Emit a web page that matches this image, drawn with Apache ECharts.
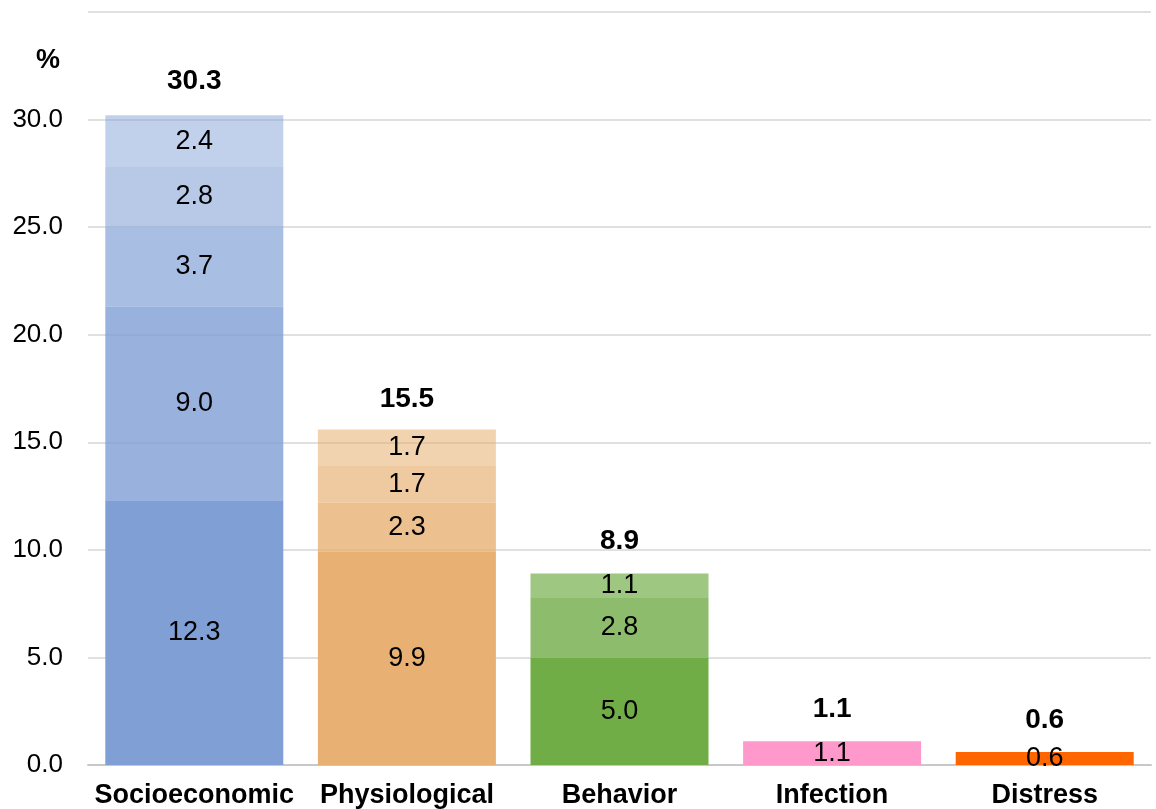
<!DOCTYPE html>
<html>
<head>
    <meta charset="utf-8">
    <title>Stacked shares</title>
    <script src="https://cdn.jsdelivr.net/npm/echarts@6/dist/echarts.min.js"></script>
    <style>
        html, body { margin: 0; padding: 0; background: #fff; }
    </style>
</head>
<body>
    <div id="main" style="width: 1156px;height:809px;"></div>
    <script>
        // data
        var categories = ['Socioeconomic', 'Physiological', 'Behavior', 'Infection', 'Distress'];
        var layer1 = [12.3, 9.9, 5.0, 1.1, 0.6];
        var layer2 = [9.0, 2.3, 2.8, '-', '-'];
        var layer3 = [3.7, 1.7, 1.1, '-', '-'];
        var layer4 = [2.8, 1.7, '-', '-', '-'];
        var layer5 = [2.4, '-', '-', '-', '-'];
        var totals = [30.3, 15.5, 8.9, 1.1, 0.6];

        // base colour per category, alpha per layer
        var baseColors = ['127,159,213', '232,177,115', '112,173,71', '255,153,204', '255,102,0'];
        var alphas = [1, 0.8, 0.68, 0.56, 0.48];
        var font = '"Liberation Sans", Arial, sans-serif';

        var myChart = echarts.init(document.getElementById('main'));

        function layerSeries(arr, idx) {
            return {
                name: 'layer' + (idx + 1),
                type: 'bar',
                stack: 'total',
                barWidth: 178,
                data: arr.map(function (v, i) {
                    return {
                        value: v,
                        itemStyle: { color: 'rgba(' + baseColors[i] + ',' + alphas[idx] + ')' }
                    };
                }),
                label: {
                    show: true,
                    position: 'inside',
                    color: '#000',
                    fontFamily: font,
                    fontSize: 27,
                    formatter: function (p) { return Number(p.value).toFixed(1); }
                },
                z: 1
            };
        }

        var series = [layer1, layer2, layer3, layer4, layer5].map(layerSeries);
        // totals above each bar
        series.push({
            name: 'total',
            type: 'scatter',
            symbolSize: 0,
            itemStyle: { opacity: 1 },
            data: totals,
            label: {
                show: true,
                position: 'top',
                distance: 18,
                color: '#000',
                fontFamily: font,
                fontWeight: 'bold',
                fontSize: 28,
                formatter: function (p) { return p.value.toFixed(1); }
            },
            z: 5
        });

        var option = {
            animation: false,
            title: {
                text: '%',
                left: 31,
                top: 42,
                textStyle: { fontFamily: font, fontWeight: 'bold', fontSize: 27, color: '#000' }
            },
            grid: { left: 88, right: 5, top: 12, bottom: 44 },
            xAxis: {
                type: 'category',
                data: categories,
                axisLine: { lineStyle: { color: '#c8c8c8', width: 2 } },
                axisTick: { show: false },
                axisLabel: {
                    interval: 0,
                    margin: 17,
                    color: '#000',
                    fontFamily: font,
                    fontWeight: 'bold',
                    fontSize: 27
                }
            },
            yAxis: {
                type: 'value',
                min: 0,
                max: 35,
                interval: 5,
                axisLine: { show: false },
                axisTick: { show: false },
                splitLine: { lineStyle: { color: '#e0e0e0', width: 2 } },
                axisLabel: {
                    margin: 25,
                    color: '#000',
                    fontFamily: font,
                    fontSize: 26,
                    formatter: function (v) { return v >= 35 ? '' : v.toFixed(1); }
                }
            },
            series: series
        };

        myChart.setOption(option);
    </script>
</body>
</html>
